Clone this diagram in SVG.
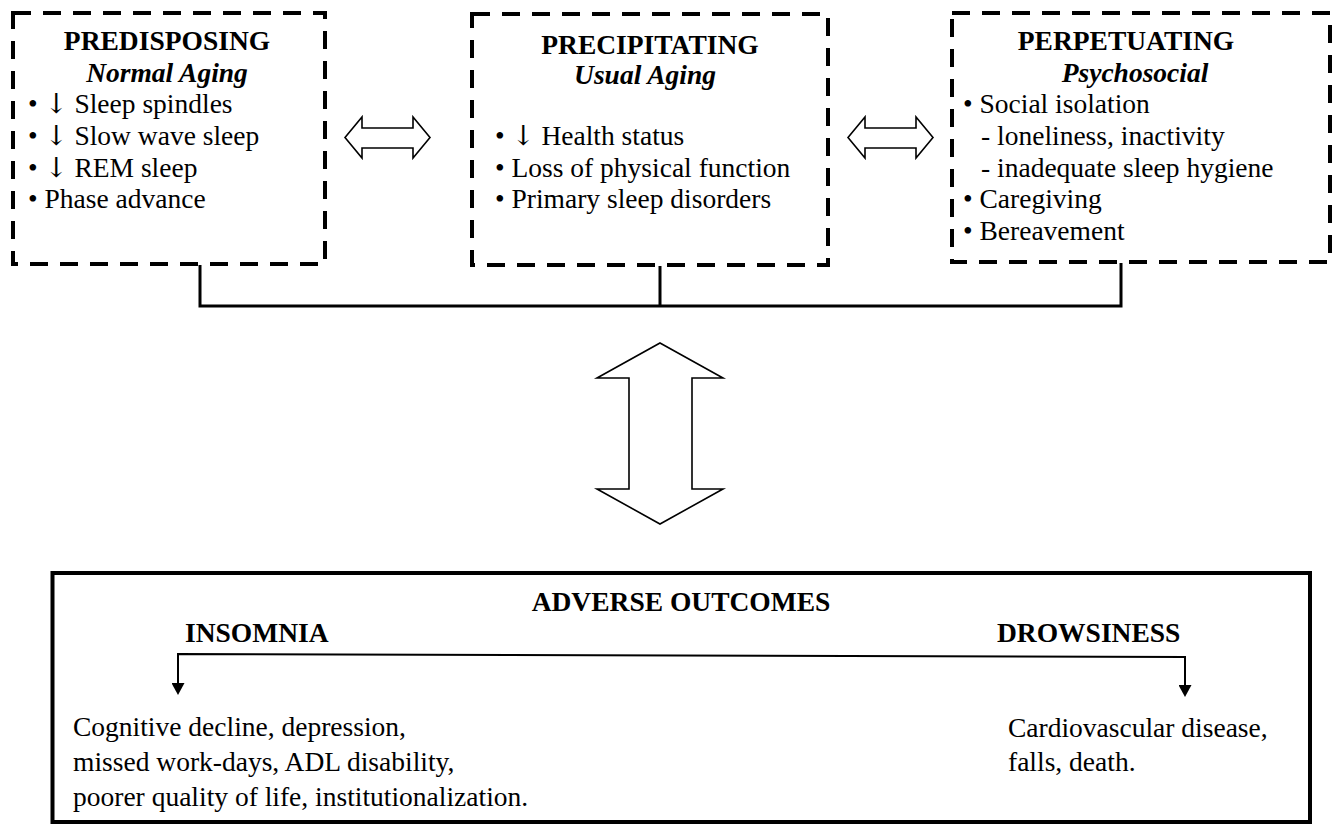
<svg xmlns="http://www.w3.org/2000/svg" width="1342" height="825" viewBox="0 0 1342 825">
<defs>
<style>
.t{font-family:"Liberation Serif","Times New Roman","DejaVu Serif",serif;font-size:27.5px;fill:#000}
.b{font-weight:bold}
.bi{font-weight:bold;font-style:italic}
.m{text-anchor:middle}
.ar{font-family:"DejaVu Serif","Liberation Serif",serif;fill:#000}
.dash{fill:none;stroke:#000;stroke-width:4;stroke-dasharray:18 12}
.solid{fill:none;stroke:#000;stroke-width:4}
.hollow{fill:#fff;stroke:#000;stroke-width:1.6;stroke-linejoin:miter}
.conn{fill:none;stroke:#000;stroke-width:3}
.thin{fill:none;stroke:#000;stroke-width:2}
</style>
<marker id="ah" viewBox="0 0 12 13" refX="0" refY="6.5" markerWidth="12" markerHeight="13" markerUnits="userSpaceOnUse" orient="auto-start-reverse">
<path d="M0,0 L12,6.5 L0,13 z" fill="#000"/>
</marker>
</defs>
<rect width="1342" height="825" fill="#fff"/>

<g id="predisposing">
<rect class="dash" x="13" y="13" width="312" height="251"/>
<text class="t b m" x="167" y="50">PREDISPOSING</text>
<text class="t bi m" x="167" y="82">Normal Aging</text>
<text class="t" x="28" y="113">• <tspan class="ar">↓</tspan> Sleep spindles</text>
<text class="t" x="28" y="145">• <tspan class="ar">↓</tspan> Slow wave sleep</text>
<text class="t" x="28" y="177">• <tspan class="ar">↓</tspan> REM sleep</text>
<text class="t" x="28" y="208">• Phase advance</text>
</g>

<g id="precipitating">
<rect class="dash" x="472" y="14" width="356" height="251"/>
<text class="t b m" x="650" y="54">PRECIPITATING</text>
<text class="t bi m" x="645" y="84">Usual Aging</text>
<text class="t" x="495" y="145">• <tspan class="ar">↓</tspan> Health status</text>
<text class="t" x="495" y="177">• Loss of physical function</text>
<text class="t" x="495" y="208">• Primary sleep disorders</text>
</g>

<g id="perpetuating">
<rect class="dash" x="952" y="13" width="378" height="249"/>
<text class="t b m" x="1126" y="50">PERPETUATING</text>
<text class="t bi m" x="1135" y="82">Psychosocial</text>
<text class="t" x="963" y="113">• Social isolation</text>
<text class="t" x="981" y="145">- loneliness, inactivity</text>
<text class="t" x="981" y="177">- inadequate sleep hygiene</text>
<text class="t" x="963" y="208">• Caregiving</text>
<text class="t" x="963" y="240">• Bereavement</text>
</g>

<g id="adverse-outcomes">
<rect class="solid" x="52.5" y="573" width="1257.5" height="249"/>
<text class="t b m" x="681" y="611">ADVERSE OUTCOMES</text>
<text class="t b" x="185" y="642">INSOMNIA</text>
<text class="t b" x="997" y="642">DROWSINESS</text>
<text class="t" x="73" y="736">Cognitive decline, depression,</text>
<text class="t" x="73" y="771">missed work-days, ADL disability,</text>
<text class="t" x="73" y="806">poorer quality of life, institutionalization.</text>
<text class="t" x="1008" y="737">Cardiovascular disease,</text>
<text class="t" x="1008" y="771">falls, death.</text>
</g>

<g id="connectors">
<polyline class="conn" points="200,265 200,306 1121,306 1121,263"/>
<line class="conn" x1="660" y1="266" x2="660" y2="306"/>
<polygon class="hollow" points="345,137.5 362,117 362,128 413,128 413,117 430,137.5 413,158 413,148 362,148 362,158"/>
<polygon class="hollow" points="848,137.5 865,117 865,128 916,128 916,117 933,137.5 916,158 916,148 865,148 865,158"/>
<polygon class="hollow" points="660,343 723,378 692,378 692,489 723,489 660,524 597,489 629,489 629,378 597,378"/>
<path class="thin" d="M178,683 L178,654 L1185,657 L1185,685" marker-start="url(#ah)" marker-end="url(#ah)"/>
</g>
</svg>
